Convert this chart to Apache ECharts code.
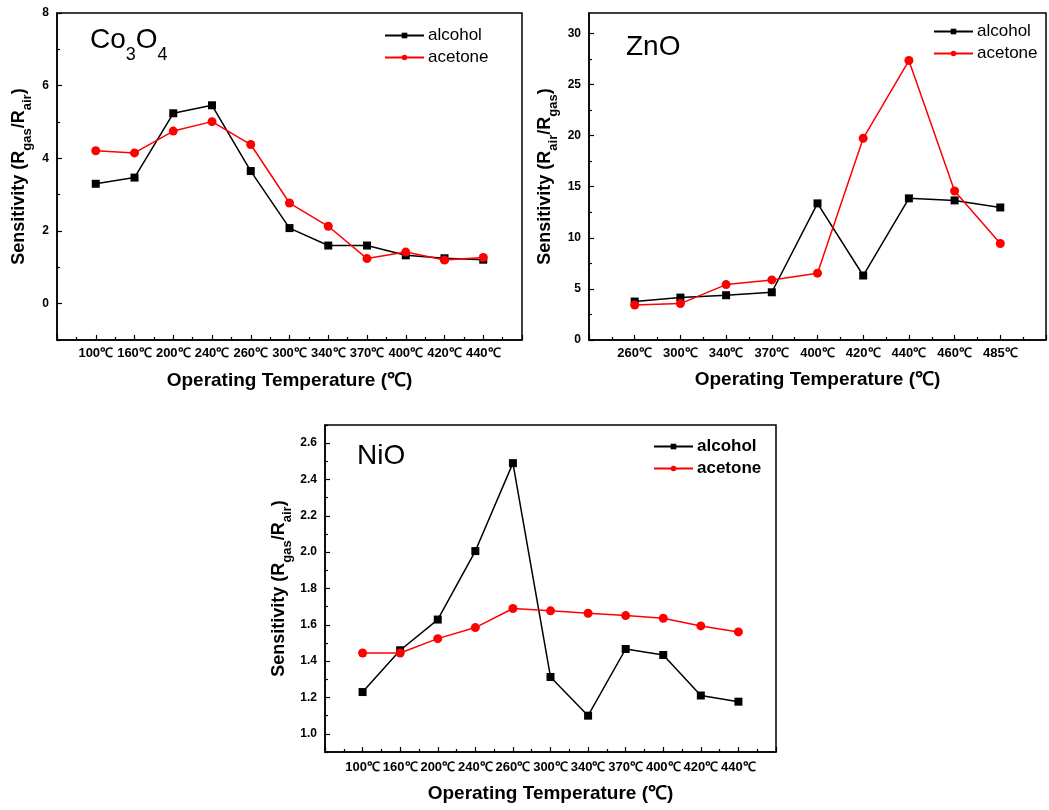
<!DOCTYPE html>
<html><head><meta charset="utf-8">
<script src="https://cdn.jsdelivr.net/npm/echarts@6/dist/echarts.min.js"></script>
<style>html,body{margin:0;padding:0;background:#fff}#c{width:1049px;height:810px}</style>
</head><body><div id="c"></div>
<script>
// ---- data ----
const co3o4Temps = ['100℃','160℃','200℃','240℃','260℃','300℃','340℃','370℃','400℃','420℃','440℃'];
const co3o4Alcohol = [3.3, 3.47, 5.24, 5.46, 3.65, 2.08, 1.6, 1.6, 1.33, 1.25, 1.21];
const co3o4Acetone = [4.21, 4.15, 4.75, 5.01, 4.38, 2.77, 2.13, 1.24, 1.42, 1.2, 1.27];

const znoTemps = ['260℃','300℃','340℃','370℃','400℃','420℃','440℃','460℃','485℃'];
const znoAlcohol = [3.76, 4.15, 4.38, 4.67, 13.37, 6.31, 13.86, 13.66, 12.97];
const znoAcetone = [3.43, 3.56, 5.42, 5.88, 6.54, 19.74, 27.35, 14.58, 9.44];

const nioTemps = ['100℃','160℃','200℃','240℃','260℃','300℃','340℃','370℃','400℃','420℃','440℃'];
const nioAlcohol = [1.23, 1.46, 1.629, 2.006, 2.49, 1.313, 1.10, 1.467, 1.434, 1.211, 1.177];
const nioAcetone = [1.445, 1.445, 1.524, 1.585, 1.69, 1.677, 1.664, 1.651, 1.636, 1.594, 1.561];

const co3o4YMajor = [0, 2, 4, 6, 8];
const co3o4YMinor = [-1, 1, 3, 5, 7];
const znoYMajor = [0, 5, 10, 15, 20, 25, 30];
const znoYMinor = [2.5, 7.5, 12.5, 17.5, 22.5, 27.5];
const nioYMajor = [1.0, 1.2, 1.4, 1.6, 1.8, 2.0, 2.2, 2.4, 2.6];
const nioYMinor = [0.9, 1.1, 1.3, 1.5, 1.7, 1.9, 2.1, 2.3, 2.5, 2.7];

// ---- build ----
const FF = 'Liberation Sans, Arial, sans-serif';
const grids = [
  {left: 57, top: 13, width: 465, height: 327},
  {left: 589, top: 13, width: 458, height: 327},
  {left: 325, top: 425, width: 451, height: 327}
];
const panels = [
  {temps: co3o4Temps, alc: co3o4Alcohol, ace: co3o4Acetone, ymin: -1, ymax: 8, maj: co3o4YMajor, min: co3o4YMinor,
   yname: '{n|Sensitivity (R}{s|gas}{n|/R}{s|air}{n|)}', ygap: 23, xgap: 31, xmargin: 7, fmt: v => String(v)},
  {temps: znoTemps, alc: znoAlcohol, ace: znoAcetone, ymin: 0, ymax: 32, maj: znoYMajor, min: znoYMinor,
   yname: '{n|Sensitivity (R}{s|air}{n|/R}{s|gas}{n|)}', ygap: 29, xgap: 30, xmargin: 7, fmt: v => String(v)},
  {temps: nioTemps, alc: nioAlcohol, ace: nioAcetone, ymin: 0.9, ymax: 2.7, maj: nioYMajor, min: nioYMinor,
   yname: '{n|Sensitivity (R}{s|gas}{n|/R}{s|air}{n|)}', ygap: 31, xgap: 32, xmargin: 9, fmt: v => v.toFixed(1)}
];

const xAxes = [], yAxes = [], series = [];
const nameRich = {
  n: {fontSize: 18, fontWeight: 'bold', fontFamily: FF, color: '#000', lineHeight: 21, verticalAlign: 'top'},
  s: {fontSize: 13, fontWeight: 'bold', fontFamily: FF, color: '#000', lineHeight: 24, verticalAlign: 'bottom'}
};
panels.forEach((p, i) => {
  const n = p.temps.length;
  xAxes.push({
    type: 'value', gridIndex: i, min: 0, max: n + 1, interval: 1,
    axisLine: {show: true, onZero: false, lineStyle: {color: '#000', width: 1.5}},
    axisTick: {show: true, inside: true, length: 5, lineStyle: {color: '#000', width: 1.2}},
    minorTick: {show: true, splitNumber: 2, length: 3, lineStyle: {color: '#000', width: 1.2}},
    splitLine: {show: false}, minorSplitLine: {show: false},
    axisLabel: {margin: p.xmargin, color: '#000', fontWeight: 'bold', fontSize: 13, fontFamily: FF,
      formatter: v => (v >= 1 && v <= n) ? p.temps[v - 1] : ''},
    name: 'Operating Temperature (℃)', nameLocation: 'middle', nameGap: p.xgap,
    nameTextStyle: {fontSize: 19, fontWeight: 'bold', fontFamily: FF, color: '#000'}
  });
  yAxes.push({
    type: 'value', gridIndex: i, min: p.ymin, max: p.ymax, position: 'left',
    axisLine: {show: true, onZero: false, lineStyle: {color: '#000', width: 1.5}},
    axisTick: {show: true, inside: true, length: 5, customValues: p.maj, lineStyle: {color: '#000', width: 1.2}},
    axisLabel: {customValues: p.maj, margin: 8, color: '#000', fontWeight: 'bold', fontSize: 12, fontFamily: FF, formatter: p.fmt},
    splitLine: {show: false},
    name: p.yname, nameLocation: 'middle', nameGap: p.ygap,
    nameTextStyle: {rich: nameRich}
  });
  const mk = (name, data, color, symbol, size) => ({
    name, type: 'line', xAxisIndex: i, yAxisIndex: i,
    data: data.map((v, k) => [k + 1, v]),
    symbol, symbolSize: size, showSymbol: true,
    lineStyle: {color, width: 1.5}, itemStyle: {color},
    emphasis: {disabled: true}, z: name === 'acetone' ? 3 : 2
  });
  series.push(mk('alcohol', p.alc, '#000000', 'rect', 8));
  series.push(mk('acetone', p.ace, '#ff0000', 'circle', 9));
});
panels.forEach((p, i) => {
  yAxes.push({
    type: 'value', gridIndex: i, min: p.ymin, max: p.ymax, position: 'left',
    axisLine: {show: false, onZero: false},
    axisTick: {show: true, inside: true, length: 3, customValues: p.min, lineStyle: {color: '#000', width: 1.2}},
    axisLabel: {show: false}, splitLine: {show: false}
  });
});

const legendBase = (left, top, bold) => ({
  left, top, orient: 'vertical', padding: 0, itemGap: 5, itemWidth: 39, itemHeight: 7,
  data: ['alcohol', 'acetone'], selectedMode: false,
  textStyle: {fontSize: 17, fontFamily: FF, color: '#000', fontWeight: bold ? 'bold' : 'normal', padding: [0, 0, 0, -1]}
});

const titleRich = {
  a: {fontSize: 28, fontFamily: FF, color: '#000', fontWeight: 'normal', lineHeight: 28, verticalAlign: 'top'},
  s: {fontSize: 18, fontFamily: FF, color: '#000', fontWeight: 'normal', lineHeight: 38, verticalAlign: 'bottom'}
};

const option = {
  animation: false,
  backgroundColor: '#fff',
  title: [
    {text: '{a|Co}{s|3}{a|O}{s|4}', left: 90, top: 26, padding: 0, textStyle: {rich: titleRich}},
    {text: 'ZnO', left: 626, top: 33, padding: 0, textStyle: {fontSize: 28, fontFamily: FF, fontWeight: 'normal', color: '#000'}},
    {text: 'NiO', left: 357, top: 442, padding: 0, textStyle: {fontSize: 28, fontFamily: FF, fontWeight: 'normal', color: '#000'}}
  ],
  legend: [legendBase(384, 27, false), legendBase(933, 23, false), legendBase(653, 438, true)],
  grid: grids.map(g => Object.assign({show: true, borderColor: '#000', borderWidth: 1.5, containLabel: false}, g)),
  xAxis: xAxes,
  yAxis: yAxes,
  series
};
const chart = echarts.init(document.getElementById('c'), null, {renderer: 'canvas'});
chart.setOption(option);
</script></body></html>
